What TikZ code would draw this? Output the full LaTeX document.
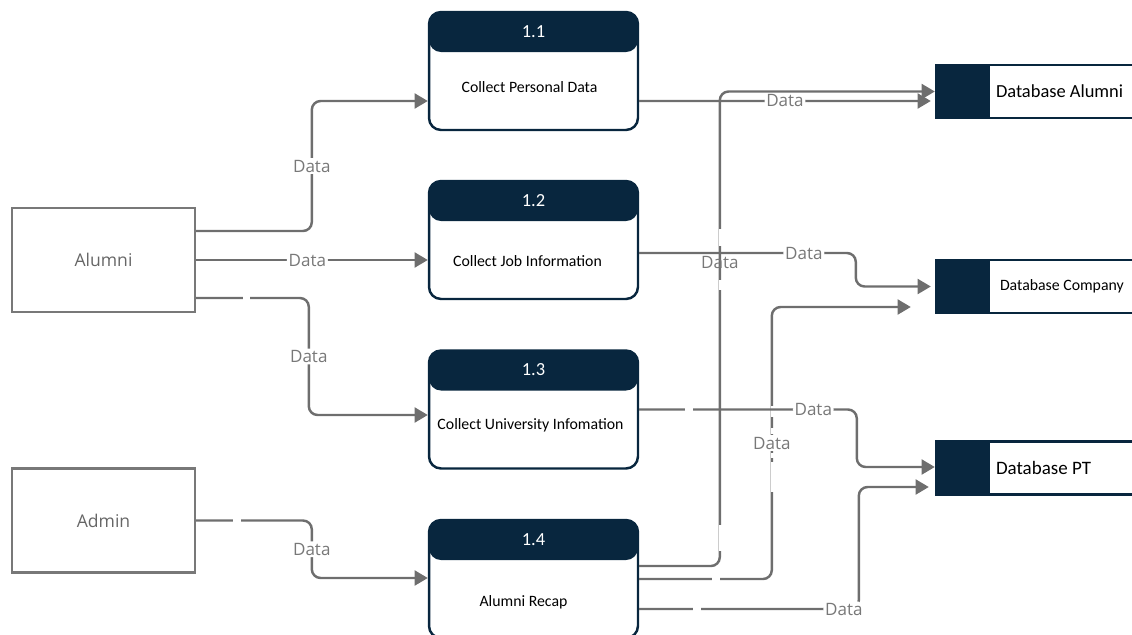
\documentclass[tikz,border=0pt]{standalone}
\usepackage{fontspec}
\newfontfamily\opensans{Open Sans}
\newfontfamily\calibri{Carlito}
\usetikzlibrary{arrows.meta,calc}
\definecolor{navy}{RGB}{8,38,62}
\definecolor{flowgray}{RGB}{110,110,110}
\definecolor{labelgray}{RGB}{120,120,120}

\begin{document}
\begin{tikzpicture}[
  x=0.02cm, y=-0.02cm,
  >={Triangle[length=7.5pt,width=8.5pt]},
  entity/.style={draw=labelgray, line width=1.3pt, minimum width=3.66cm, minimum height=2.08cm,
    text=black!60, font=\opensans\fontsize{10}{12}\selectfont},
  process/.style={draw=navy, line width=1.4pt, rounded corners=6.8pt, minimum width=4.18cm, minimum height=2.36cm,
    path picture={\fill[navy] (path picture bounding box.north west) rectangle ([yshift=-0.8cm]path picture bounding box.north east);}},
  ptitle/.style={text=white, font=\calibri\fontsize{10.5}{12}\selectfont},
  ptext/.style={font=\calibri\fontsize{9}{11}\selectfont},
  store/.style={draw=navy, line width=1.4pt, minimum width=4.08cm, minimum height=1.06cm,
    path picture={\fill[navy] (path picture bounding box.south west) rectangle ([xshift=1.08cm]path picture bounding box.north west);}},
  stext/.style={anchor=west, font=\calibri\fontsize{10.5}{12}\selectfont},
  flow/.style={draw=flowgray, line width=1.4pt, rounded corners=5pt, ->},
  lbl/.style={fill=white, inner sep=1pt, text=labelgray, font=\opensans\fontsize{9.7}{11}\selectfont},
  hop/.style={white, line width=2.5pt}]
  \useasboundingbox (0,0) rectangle (1132,635);
  % external entities
  \node[entity] (alumni) at (103.5,260) {Alumni};
  \node[entity] (admin) at (103.5,520.5) {Admin};
  % processes
  \node[process] (p11) at (533.5,71) {};
  \node[ptitle] (t11) at ($(p11.north)+(0,21)$) {1.1};
  \node[ptext] (x11) at ($(p11.center)+(-4,16)$) {Collect Personal Data};
  \node[process] (p12) at (533.5,240) {};
  \node[ptitle] (t12) at ($(p12.north)+(0,21)$) {1.2};
  \node[ptext] (x12) at ($(p12.center)+(-6,21)$) {Collect Job Information};
  \node[process] (p13) at (533.5,409.5) {};
  \node[ptitle] (t13) at ($(p13.north)+(0,20)$) {1.3};
  \node[ptext] (x13) at ($(p13.center)+(-3,15.5)$) {Collect University Infomation};
  \node[process] (p14) at (533.5,579) {};
  \node[ptitle] (t14) at ($(p14.north)+(0,21)$) {1.4};
  \node[ptext] (x14) at ($(p14.center)+(-10,23)$) {Alumni Recap};
  % data stores
  \node[store] (dba) at (1038,91.5) {};
  \node[stext] (na) at ($(dba.west)+(55,0)$) {Database Alumni};
  \node[store] (dbc) at (1038,286.5) {};
  \node[stext,font=\calibri\fontsize{9}{11}\selectfont] (nc) at ($(dbc.west)+(59,0)$) {Database Company};
  \node[store] (dbp) at (1038,468) {};
  \node[stext,font=\calibri\fontsize{10.8}{12}\selectfont] (np) at ($(dbp.west)+(55,0)$) {Database PT};
  % entities -> processes
  \draw[flow] ($(alumni.east)+(0,-29)$) -| node[lbl,pos=0.75] {Data} ($(p11.west)+(-116,30)$) -- ($(p11.west)+(0,30)$);
  \draw[flow] (alumni.east) -- node[lbl,pos=0.48] {Data} (alumni.east -| p12.west);
  \draw[flow] ($(alumni.east)+(0,38)$) -| node[lbl,pos=0.75] {Data} ($(p13.west)+(-119,5.5)$) -- ($(p13.west)+(0,5.5)$);
  \draw[hop] (243,298) -- (250,298);
  \draw[flow] (admin.east) -| node[lbl,pos=0.75] {Data} ($(p14.west)+(-116,-1)$) -- ($(p14.west)+(0,-1)$);
  \draw[hop] (233,520.5) -- (241,520.5);
  % processes -> stores
  \draw[flow] ($(p11.east)+(0,30)$) -- node[lbl] {Data} ($(dba.west)+(-4,9.5)$);
  \draw[flow] ($(p14.east)+(0,-13)$) -| node[lbl,fill=none,pos=0.82] {Data} ($(dba.west)+(-215,0)$) -- (dba.west);
  \draw[hop] (721,229) -- (721,246);
  \draw[hop] (721,280) -- (721,290);
  \draw[hop] (721,525) -- (721,551);
  \draw[flow] ($(p12.east)+(0,13)$) -| node[lbl,pos=0.38] {Data} ($(dbc.west)+(-79,0)$) -- ($(dbc.west)+(-4,0)$);
  \draw[flow] (p14.east) -| node[lbl,pos=0.75] {Data} ($(dbc.west)+(-163,20.5)$) -- ($(dbc.west)+(-24,20.5)$);
  \draw[hop] (773,406) -- (773,417);
  \draw[hop] (773,428) -- (773,434);
  \draw[hop] (773,453) -- (773,458);
  \draw[hop] (773,462) -- (773,492);
  \draw[hop] (712,579) -- (720,579);
  \draw[flow] (p13.east) -| node[lbl,pos=0.4] {Data} ($(dbp.west)+(-78,-1)$) -- ($(dbp.west)+(0,-1)$);
  \draw[hop] (685,409.5) -- (693,409.5);
  \draw[flow] ($(p14.east)+(0,30)$) -| node[lbl,pos=0.466] {Data} ($(dbp.west)+(-76,19)$) -- ($(dbp.west)+(-6,19)$);
  \draw[hop] (693,609) -- (701,609);
\end{tikzpicture}
\end{document}
